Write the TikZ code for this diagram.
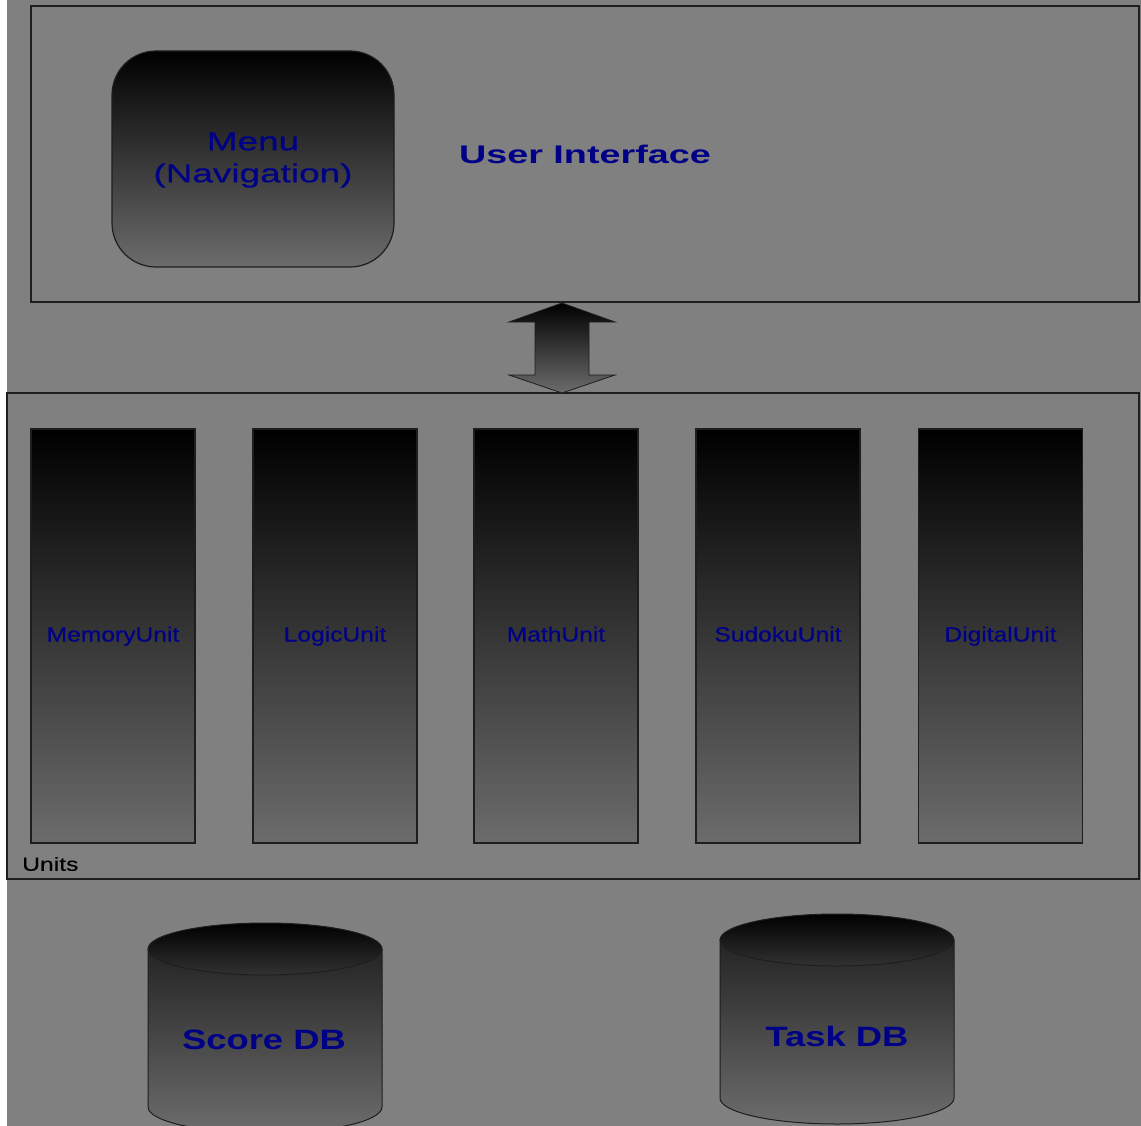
\documentclass[tikz,border=0pt]{standalone}
\usepackage{fontspec}
\setmainfont{Liberation Sans}
\newfontfamily\widefont[FakeStretch=1.42,FakeBold=0.5]{Liberation Sans}
\newfontfamily\uifont[FakeStretch=1.48]{Liberation Sans}
\newfontfamily\dbfont[FakeStretch=1.3]{Liberation Sans}
\newfontfamily\midfont[FakeStretch=1.2,FakeBold=0.5]{Liberation Sans}
\newfontfamily\unitsfont[FakeStretch=1.3,FakeBold=0.3]{Liberation Sans}
\definecolor{bgray}{RGB}{128,128,128}
\definecolor{labelblue}{RGB}{0,0,135}
\definecolor{edge}{RGB}{30,30,30}
\definecolor{shadelow}{RGB}{108,108,108}
\definecolor{cylmid}{RGB}{36,36,36}
\begin{document}
\begin{tikzpicture}[x=1pt,y=-1pt,
  frame/.style={draw=edge,line width=1.2pt},
  panel/.style={frame,fill=bgray,inner sep=0pt},
  unitbox/.style={frame,inner sep=0pt,minimum width=164pt,minimum height=414pt,
    top color=black,bottom color=shadelow,text=labelblue,
    text height=15pt,text depth=4pt,
    font=\midfont\fontsize{20.5}{24}\selectfont},
  menubox/.style={frame,inner sep=0pt,rounded corners=44pt,minimum width=282pt,
    minimum height=216pt,top color=black,bottom color=shadelow},
  bluetext/.style={text=labelblue,inner sep=0pt},
  dbtext/.style={bluetext,font=\dbfont\bfseries\fontsize{28}{32}\selectfont}
]
% canvas
\useasboundingbox (0,0) rectangle (1141,1126);
\fill[white] (0,0) rectangle (1141,1126);
\fill[bgray] (7,0) rectangle (1141,1126);

% user interface panel
\node[panel,minimum width=1108pt,minimum height=296pt] (ui) at (585,154) {};
\node[menubox] (menu) at (253,159) {};
\node[bluetext,align=center,font=\widefont\fontsize{26}{32}\selectfont] (menutext) at (253,160) {Menu\\(Navigation)};
\node[bluetext,font=\uifont\bfseries\fontsize{25.5}{30}\selectfont] (uitext) at (585,154) {User Interface};

% units panel
\node[panel,minimum width=1132pt,minimum height=486pt] (units) at (573,636) {};
\node[unitbox] (memory)  at (113,636) {MemoryUnit};
\node[unitbox] (logic)   at (335,636) {LogicUnit};
\node[unitbox] (math)    at (556,636) {MathUnit};
\node[unitbox] (sudoku)  at (778,636) {SudokuUnit};
\node[unitbox] (digital) at (1000.5,636) {DigitalUnit};
\node[anchor=west,inner sep=0pt,text=black,font=\unitsfont\fontsize{19}{22}\selectfont] (unitslabel) at (22,864) {Units};

% two-way block arrow between the panels
\coordinate (atop) at (562,303);
\coordinate (abot) at (562,393);
\shadedraw[draw=edge,line width=0.8pt,top color=black,middle color=black,bottom color=shadelow]
  (atop) -- (615,322) -- (589,322) -- (589,375) -- (615,375) -- (abot)
  -- (509,375) -- (535,375) -- (535,322) -- (509,322) -- cycle;

% databases
\begin{scope}
\clip (0,0) rectangle (1141,1126);
\foreach \cx/\cy/\nm in {265/949/score,837/940/task}{
  \shadedraw[draw=edge,line width=1pt,top color=cylmid,bottom color=shadelow]
    (\cx-117,\cy) -- (\cx-117,\cy+158) arc[start angle=180,end angle=360,x radius=117,y radius=-26]
    -- (\cx+117,\cy) -- cycle;
  \shadedraw[draw=edge,line width=1pt,top color=black,bottom color=cylmid!85!bgray]
    (\cx,\cy) ellipse[x radius=117,y radius=26];
}
\end{scope}
\node[dbtext] (scoredb) at (264,1040) {Score DB};
\node[dbtext] (taskdb) at (837,1036) {Task DB};
\end{tikzpicture}
\end{document}
